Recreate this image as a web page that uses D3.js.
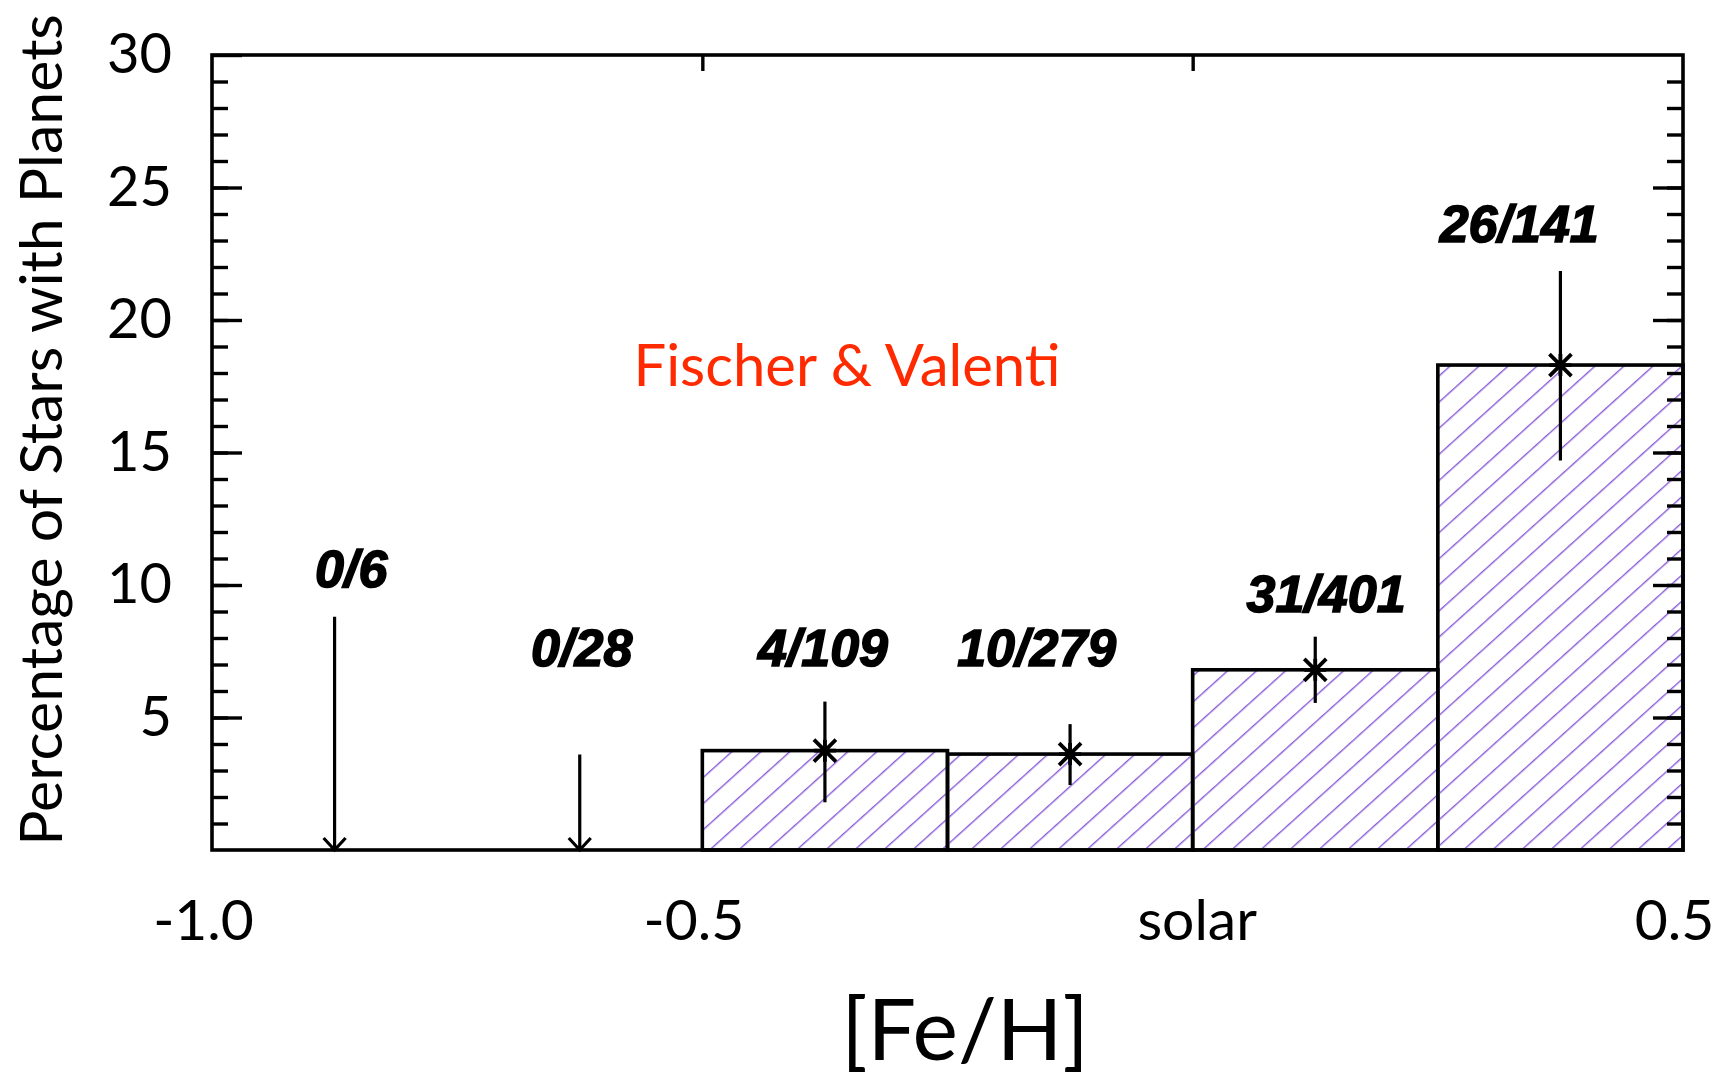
<!DOCTYPE html>
<html>
<head>
<meta charset="utf-8">
<script src="https://cdn.jsdelivr.net/npm/d3@7"></script>
<style>
body{margin:0;background:#fff;}
.gill{font-family:Lato,"Noto Sans",sans-serif;}
.frac{font-family:"Liberation Sans",Arial,sans-serif;font-weight:bold;font-style:italic;}
</style>
</head>
<body>
<div id="chart"></div>
<script>

// DATOS

const binEdges=[-1.0,-0.75,-0.5,-0.25,0.0,0.25,0.5];

const porcentaje=[0,0,3.75,3.62,6.8,18.3];

const errBajo=[null,null,1.8,2.45,5.55,14.7];

const errAlto=[8.8,3.6,5.6,4.75,8.05,21.85];

const conteos=["0/6","0/28","4/109","10/279","31/401","26/141"];

// donde va cada etiqueta (unidades de datos: [Fe/H], porcentaje)
const etiquetaX=[-0.858,-0.623,-0.377,-0.159,0.136,0.333];
const etiquetaY=[9.92,6.94,6.94,6.94,8.98,22.94];

const xTicks=[-1.0,-0.5,0.0,0.5];
const xTickLabels=["-1.0","-0.5","solar","0.5"];

const yTicks=[5,10,15,20,25,30];


function drawHistograma(){

const width=1721;
const height=1083;

const svg=d3.select("#chart")
.append("svg")
.attr("width",width)
.attr("height",height);

const x=d3.scaleLinear()
.domain([-1.0,0.5])
.range([212,1683]);

const y=d3.scaleLinear()
.domain([0,30])
.range([850,55]);

const datos=porcentaje.map((p,i)=>({
x0:binEdges[i],
x1:binEdges[i+1],
centro:(binEdges[i]+binEdges[i+1])/2,
p:p,
lo:errBajo[i],
hi:errAlto[i],
txt:conteos[i],
lx:etiquetaX[i],
ly:etiquetaY[i]
}));


// PATRON RAYADO
const defs=svg.append("defs");

defs.append("pattern")
.attr("id","rayas")
.attr("patternUnits","userSpaceOnUse")
.attr("width",10)
.attr("height",19.4)
.attr("patternTransform","rotate(-42)")
.append("line")
.attr("x1",-1)
.attr("x2",11)
.attr("y1",0.7)
.attr("y2",0.7)
.attr("stroke","#8a5bd8")
.attr("stroke-width",1.4);


// BARRAS
const barras=datos.filter(d=>d.p>0);

svg.selectAll(".barra")
.data(barras)
.enter()
.append("rect")
.attr("class","barra")
.attr("x",d=>x(d.x0))
.attr("y",d=>y(d.p))
.attr("width",d=>x(d.x1)-x(d.x0))
.attr("height",d=>y(0)-y(d.p))
.attr("fill","url(#rayas)")
.attr("stroke","black")
.attr("stroke-width",3.6);


// EJES (ticks hacia dentro)
const yMenor=d3.range(1,30);

svg.append("g")
.attr("transform",`translate(${x(-1.0)},0)`)
.call(d3.axisLeft(y).tickValues(yMenor).tickSize(-16).tickFormat(""))
.call(g=>g.select(".domain").remove())
.call(g=>g.selectAll("line").attr("stroke-width",3.4));

svg.append("g")
.attr("transform",`translate(${x(-1.0)},0)`)
.call(d3.axisLeft(y).tickValues(yTicks).tickSize(-30).tickPadding(40).tickFormat(d3.format("d")))
.call(g=>g.select(".domain").remove())
.call(g=>g.selectAll("line").attr("stroke-width",3.4))
.call(g=>g.selectAll("text")
.attr("class","gill")
.style("font-size","56px")
.attr("fill","black"));

svg.append("g")
.attr("transform",`translate(${x(0.5)},0)`)
.call(d3.axisRight(y).tickValues(yMenor).tickSize(-16).tickFormat(""))
.call(g=>g.select(".domain").remove())
.call(g=>g.selectAll("line").attr("stroke-width",3.4));

svg.append("g")
.attr("transform",`translate(${x(0.5)},0)`)
.call(d3.axisRight(y).tickValues(yTicks.filter(v=>v<30)).tickSize(-30).tickFormat(""))
.call(g=>g.select(".domain").remove())
.call(g=>g.selectAll("line").attr("stroke-width",3.4));

svg.append("g")
.attr("transform",`translate(0,${y(30)})`)
.call(d3.axisTop(x).tickValues([-0.5,0.0]).tickSize(-16).tickFormat(""))
.call(g=>g.select(".domain").remove())
.call(g=>g.selectAll("line").attr("stroke-width",3.4));

svg.append("g")
.attr("transform",`translate(0,${y(0)})`)
.call(d3.axisBottom(x).tickValues(xTicks).tickSize(0).tickPadding(50)
.tickFormat((d,i)=>xTickLabels[i]))
.call(g=>g.select(".domain").remove())
.call(g=>g.selectAll("text")
.attr("class","gill")
.attr("dx",(d,i)=>i===2?4:-9)
.style("font-size","57px")
.attr("fill","black"));


// MARCO
svg.append("rect")
.attr("x",x(-1.0))
.attr("y",y(30))
.attr("width",x(0.5)-x(-1.0))
.attr("height",y(0)-y(30))
.attr("fill","none")
.attr("stroke","black")
.attr("stroke-width",3.6);


// BARRAS DE ERROR
svg.selectAll(".error")
.data(barras)
.enter()
.append("line")
.attr("x1",d=>x(d.centro))
.attr("x2",d=>x(d.centro))
.attr("y1",d=>y(d.hi))
.attr("y2",d=>y(d.lo))
.attr("stroke","black")
.attr("stroke-width",3.2);


// ASTERISCOS
const s=11;

svg.selectAll(".ast")
.data(barras)
.enter()
.append("path")
.attr("d",d=>{
const cx=x(d.centro),cy=y(d.p);
return `M${cx-s},${cy-s}L${cx+s},${cy+s}M${cx-s},${cy+s}L${cx+s},${cy-s}`+
`M${cx-s},${cy}L${cx+s},${cy}M${cx},${cy-s}L${cx},${cy+s}`;
})
.attr("stroke","black")
.attr("stroke-width",3.8)
.attr("fill","none");


// LIMITES SUPERIORES (flechas)
const limites=datos.filter(d=>d.p===0);

svg.selectAll(".flecha")
.data(limites)
.enter()
.append("path")
.attr("d",d=>{
const cx=x(d.centro),y0=y(0);
return `M${cx},${y(d.hi)}L${cx},${y0}M${cx-11},${y0-12}L${cx},${y0}L${cx+11},${y0-12}`;
})
.attr("stroke","black")
.attr("stroke-width",3.2)
.attr("fill","none");


// ETIQUETAS n/N
svg.selectAll(".frac")
.data(datos)
.enter()
.append("text")
.attr("class","frac")
.attr("x",d=>x(d.lx))
.attr("y",d=>y(d.ly))
.attr("text-anchor","middle")
.style("font-size","52px")
.attr("stroke","black")
.attr("stroke-width",1.6)
.text(d=>d.txt);


// TEXTO ROJO
svg.append("text")
.attr("class","gill")
.attr("x",847)
.attr("y",386)
.attr("text-anchor","middle")
.style("font-size","58px")
.attr("fill","#ff2a00")
.text("Fischer & Valenti");


// ETIQUETA X
svg.append("text")
.attr("class","gill")
.attr("x",965)
.attr("y",1060)
.attr("text-anchor","middle")
.style("font-size","86px")
.text("[Fe/H]");


// ETIQUETA Y
svg.append("text")
.attr("class","gill")
.attr("transform","rotate(-90)")
.attr("x",-430)
.attr("y",62)
.attr("text-anchor","middle")
.style("font-size","59px")
.text("Percentage of Stars with Planets");

}

drawHistograma();

</script>
</body>
</html>
